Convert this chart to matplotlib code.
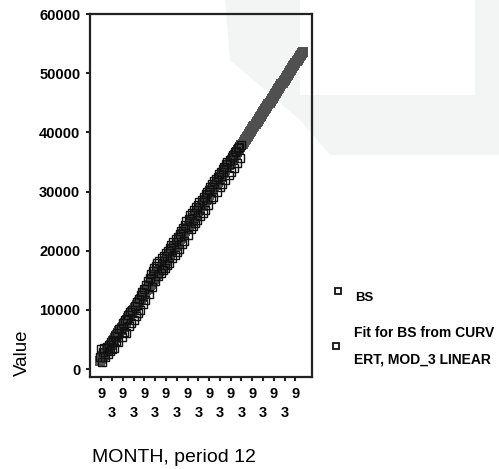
import numpy as np
import matplotlib
matplotlib.use("Agg")
import matplotlib.pyplot as plt
from matplotlib.lines import Line2D
from matplotlib.patches import Polygon

plt.rcParams['font.family'] = ['Liberation Sans', 'DejaVu Sans']

bs_values = [
    2100, 3300, 1200, 2900, 3600, 2000, 3800, 2600, 4100, 3000, 4600, 3400,
    4900, 3600, 5500, 4700, 6100, 4500, 6700, 6900, 5400, 7800, 6300, 8200,
    6100, 8400, 9100, 7200, 9600, 7700, 10000, 8200, 10700, 8900, 11300, 9400,
    11800, 10000, 12500, 13100, 11000, 13600, 11600, 14200, 14800, 12700, 15300, 16000,
    13900, 16500, 17000, 14800, 17400, 17900, 15800, 18300, 16300, 18800, 16700, 19100,
    17000, 19600, 17500, 20000, 17900, 20400, 21000, 18800, 21500, 19300, 22000, 19800,
    22300, 20200, 22800, 23400, 21100, 23900, 21600, 24300, 25000, 22600, 25300, 26000,
    23700, 26400, 24200, 26900, 24700, 27300, 25100, 27700, 28200, 25900, 28600, 26400,
    29100, 26900, 29500, 30000, 27800, 30300, 30800, 28700, 31200, 29100, 31700, 32100,
    29900, 32500, 32900, 30800, 33300, 31200, 33800, 34200, 32000, 34600, 35000, 32800,
    35300, 33300, 35800, 36200, 34000, 36600, 36900, 34800, 37300, 37600, 35600, 37900,
]
n_months = 189          # observed + forecast horizon
tick_months = list(range(1, 182, 10))
tick_labels = ["9" if i % 2 == 0 else "\n3" for i in range(len(tick_months))]
y_ticks = [0, 10000, 20000, 30000, 40000, 50000, 60000]
legend_labels = ["BS", "Fit for BS from CURV\nERT, MOD_3 LINEAR"]

months_obs = np.arange(len(bs_values))
months_all = np.arange(n_months)
# Linear curve fit (CURVEFIT LINEAR) on the observed data, extended to the horizon
slope, intercept = np.polyfit(months_obs, bs_values, 1)
fit_values = intercept + slope * months_all

W, H = 499, 469
fig = plt.figure(figsize=(W / 100, H / 100), dpi=100)
fig.patch.set_facecolor('white')

# faint scan shading in the upper right (background artifact)
shade = '#f3f5f5'
fig.add_artist(Polygon([(225 / W, 1), (300 / W, 1), (300 / W, 1 - 95 / H), (475 / W, 1 - 95 / H),
                        (475 / W, 1), (499 / W, 1), (499 / W, 1 - 155 / H), (330 / W, 1 - 155 / H),
                        (300 / W, 1 - 120 / H), (230 / W, 1 - 60 / H)],
                       closed=True, transform=fig.transFigure, facecolor=shade,
                       edgecolor='none', zorder=0))

ax = fig.add_axes([90 / W, 1 - 377 / H, (312 - 90) / W, (377 - 14) / H])
ax.set_facecolor('none')

ax.plot(months_all, fit_values, linestyle='none', marker='s', markersize=6,
        markerfacecolor='none', markeredgecolor='#505050', markeredgewidth=1.4, zorder=2)
ax.plot(months_obs, bs_values, linestyle='none', marker='s', markersize=5.5,
        markerfacecolor='none', markeredgecolor='#111111', markeredgewidth=1.0, zorder=3)

ax.set_xlim(-9.3, 196.3)
ax.set_ylim(-1350, 60000)
ax.set_yticks(y_ticks)
ax.set_yticklabels([str(v) for v in y_ticks], fontsize=10.5, fontweight='bold')
ax.set_xticks(tick_months)
ax.set_xticklabels(tick_labels, fontsize=10.5, fontweight='bold')
for lab in ax.get_xticklabels():
    lab.set_linespacing(1.5)
ax.tick_params(axis='both', direction='out', length=3, width=1.5, color='#222222')
ax.tick_params(axis='y', pad=4)
ax.tick_params(axis='x', pad=4)
for sp in ax.spines.values():
    sp.set_linewidth(1.6)
    sp.set_color('#222222')

fig.text(22 / W, 1 - 353 / H, "Value", rotation=90, ha='center', va='center', fontsize=13.5)
fig.text(92 / W, 1 - 457 / H, "MONTH, period 12", ha='left', va='center', fontsize=14)

# legend drawn manually
fig.add_artist(Line2D([338 / W], [1 - 291 / H], transform=fig.transFigure, marker='s',
                      markersize=5, markerfacecolor='none', markeredgecolor='#111111',
                      markeredgewidth=1.3, linestyle='none'))
fig.text(355 / W, 1 - 298 / H, legend_labels[0], ha='left', va='center', fontsize=9.5, fontweight='bold')
fig.add_artist(Line2D([336 / W], [1 - 346 / H], transform=fig.transFigure, marker='s',
                      markersize=5, markerfacecolor='none', markeredgecolor='#111111',
                      markeredgewidth=1.3, linestyle='none'))
fig.text(354 / W, 1 - 346 / H, legend_labels[1], ha='left', va='center', fontsize=10,
         fontweight='bold', linespacing=2.1)

fig.savefig("out.png", dpi=100)
